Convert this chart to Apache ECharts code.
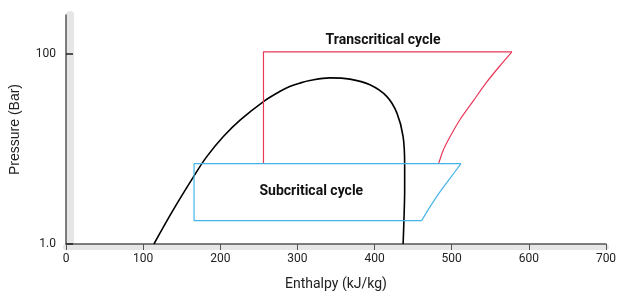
<!DOCTYPE html>
<html>
<head>
<meta charset="utf-8">
<script src="https://cdn.jsdelivr.net/npm/echarts@6/dist/echarts.min.js"></script>
<style>
  html, body { margin: 0; padding: 0; background: #fff; }
  #chart { width: 618px; height: 291px; }
</style>
</head>
<body>
<div id="chart"></div>
<script>
// saturation dome (enthalpy kJ/kg, pressure bar)
const domeH = [114, 139, 166, 182, 204, 226, 256, 277, 290, 303, 316, 342, 368, 394, 416, 429, 437, 439, 439, 438, 437];
const domeP = [1.0, 2.28, 5.2, 8.2, 13.5, 20.2, 31.5, 40.1, 45.3, 49.2, 52.4, 55.9, 54.2, 47.2, 35.5, 23.8, 13.5, 6.8, 3.7, 1.72, 1.0];

// transcritical cycle: straight part + gas cooler curve
const transH = [256, 256, 578];
const transP = [7, 105, 105];
const transCurveH = [578, 562, 545, 528, 511, 498, 489, 483];
const transCurveP = [105, 74, 50, 32, 20.5, 13.5, 9.7, 7];

// subcritical cycle
const subH = [461, 166, 166, 512];
const subP = [1.76, 1.76, 7, 7];
const subCurveH = [461, 472, 485, 498, 512];
const subCurveP = [1.76, 2.47, 3.55, 4.92, 7];

// text notes
const noteNames = ["Transcritical cycle", "Subcritical cycle"];
const noteH = [411, 318];
const noteP = [138, 3.55];

const xTicks = [0, 100, 200, 300, 400, 500, 600, 700];
const yTicks = [1, 100];

function zip(a, b) {
  return a.map((v, i) => [v, b[i]]);
}

const myChart = echarts.init(document.getElementById("chart"));

const tickFont = "'Liberation Sans Narrow', Roboto, sans-serif";

let option = {
  animation: false,
  grid: { left: 66, right: 12, top: 15, bottom: 47, outerBoundsMode: "none" },
  xAxis: [
    {
      type: "value",
      min: xTicks[0],
      max: xTicks[xTicks.length - 1],
      interval: 100,
      name: "Enthalpy (kJ/kg)",
      nameLocation: "middle",
      nameGap: 33,
      nameTextStyle: { fontSize: 14, color: "#222", fontFamily: tickFont },
      axisLine: { lineStyle: { color: "#555", width: 1.5 } },
      axisTick: { show: true, length: 6, lineStyle: { color: "#555" } },
      axisLabel: { fontSize: 12, color: "#222", margin: 9, fontFamily: tickFont },
      splitLine: { show: false },
    },
    {
      type: "value",
      position: "bottom",
      offset: 3,
      min: 0,
      max: 700,
      axisLine: { show: true, lineStyle: { color: "#e6e6e6", width: 6 } },
      axisTick: { show: false },
      axisLabel: { show: false },
      splitLine: { show: false },
      z: -1,
    },
  ],
  yAxis: [
    {
      type: "log",
      logBase: 100,
      min: 1,
      max: 256,
      name: "Pressure (Bar)",
      nameLocation: "middle",
      nameGap: 44,
      nameTextStyle: { fontSize: 14, color: "#222", fontFamily: "'Liberation Sans', Arial, sans-serif" },
      axisLine: { show: true, lineStyle: { color: "#555", width: 1.5 } },
      axisTick: { show: true, inside: true, length: 7, lineStyle: { color: "#222", width: 1.5 } },
      axisLabel: {
        fontSize: 12,
        color: "#222",
        margin: 10,
        showMaxLabel: false,
        fontFamily: tickFont,
        formatter: function (v) {
          if (yTicks.indexOf(v) < 0) return "";
          return v === 1 ? "1.0" : String(v);
        },
      },
      splitLine: { show: false },
    },
    {
      type: "log",
      logBase: 100,
      min: 1,
      max: 256,
      position: "left",
      offset: -4,
      axisLine: { show: true, lineStyle: { color: "#e6e6e6", width: 8 } },
      axisTick: { show: false },
      axisLabel: { show: false },
      splitLine: { show: false },
      z: -1,
    },
  ],
  series: [
    {
      type: "line",
      data: zip(domeH, domeP),
      smooth: 0.35,
      symbol: "none",
      lineStyle: { color: "#000", width: 1.6 },
    },
    {
      type: "line",
      data: zip(transH, transP),
      symbol: "none",
      lineStyle: { color: "#e8385a", width: 1.2 },
    },
    {
      type: "line",
      data: zip(transCurveH, transCurveP),
      smooth: 0.25,
      symbol: "none",
      lineStyle: { color: "#e8385a", width: 1.2 },
    },
    {
      type: "line",
      data: zip(subH, subP),
      symbol: "none",
      lineStyle: { color: "#45b4e8", width: 1.2 },
    },
    {
      type: "line",
      data: zip(subCurveH, subCurveP),
      smooth: 0.25,
      symbol: "none",
      lineStyle: { color: "#45b4e8", width: 1.2 },
    },
    {
      type: "scatter",
      symbolSize: 0,
      silent: true,
      itemStyle: { opacity: 1 },
      data: noteNames.map((n, i) => [noteH[i], noteP[i], n]),
      label: {
        show: true,
        position: "inside",
        formatter: function (p) {
          return p.value[2];
        },
        fontSize: 14,
        fontWeight: "bold",
        color: "#111",
        textBorderWidth: 0,
        fontFamily: "Roboto, sans-serif",
      },
    },
  ],
};

myChart.setOption(option);
window.addEventListener("resize", function () {
  myChart.resize();
});
</script>
</body>
</html>
